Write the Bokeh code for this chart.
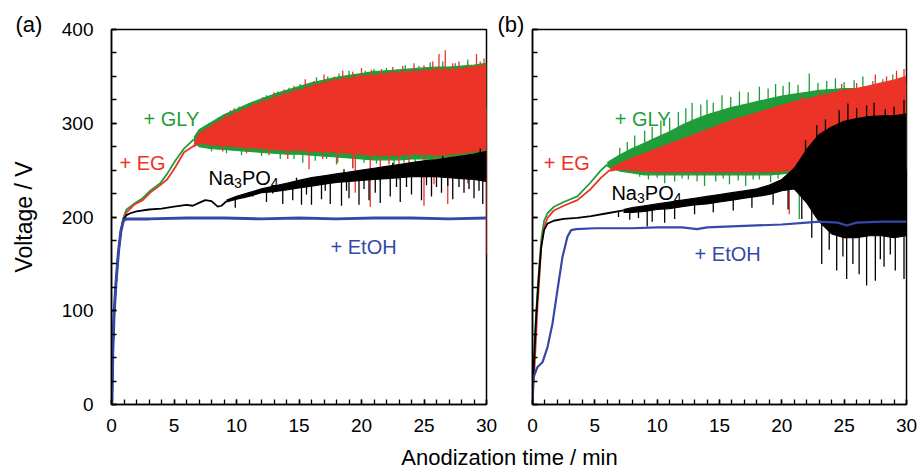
import numpy as np
from bokeh.plotting import figure
from bokeh.layouts import row, column
from bokeh.models import SingleIntervalTicker, Label, Range1d
from bokeh.embed import file_html
from bokeh.resources import INLINE

FONT = "Liberation Sans"
GREEN = "#1f9d3a"
RED = "#ec3327"
BLUE = "#3548a8"
BLACK = "#000000"

X_TICKS = [0, 5, 10, 15, 20, 25, 30]
Y_TICKS = [0, 100, 200, 300, 400]

# ---------------- panel (a) ----------------
A_GLY_T = [0, 0.04, 0.1, 0.2, 0.35, 0.55, 0.75, 0.95, 1.2, 1.8, 2.5, 3.1, 3.9, 4.45, 5.1, 5.8, 6.6]
A_GLY_V = [0, 5, 55, 95, 128, 162, 185, 199, 208, 214, 220, 228, 236, 246, 260, 273, 283]
A_GLY_BT = [6.6, 7, 8, 9, 10, 11, 12, 13, 14, 15, 16, 17, 18, 19, 20, 21, 22, 23, 24, 25, 26, 27, 28, 29, 30]
A_GLY_HI = [285, 293, 301, 309, 315, 321, 326, 331, 335, 339, 343, 346, 349, 351, 353, 355, 356, 357, 358, 359, 360, 360, 361, 362, 364]
A_GLY_LO = [281, 275, 273, 272, 271, 270, 269, 268, 267, 267, 266, 265, 264, 263, 262, 261, 261, 261, 262, 262, 261, 262, 263, 265, 267]
A_GLY_DN_T = [8.0, 9.2, 10.4, 12.0, 13.5, 14.6, 15.3, 16.3, 17.2, 18.0, 19.3, 20.2, 21.2, 22.6, 23.4, 24.3, 25.2, 26.2, 27.3, 28.8, 29.8]
A_GLY_DN_V = [270, 268, 266, 265, 262, 262, 258, 260, 262, 256, 252, 258, 257, 255, 258, 258, 250, 256, 257, 259, 262]
A_GLY_UP_T = [7.8, 8.5, 9.5, 10.2, 11.2, 12.4, 13.3, 14.2, 15.1, 16.4, 17.3, 18.2, 19.0, 20.3, 21.0, 22.0, 23.5, 24.6, 25.5, 26.5, 27.5, 28.5, 29.5]
A_GLY_UP_V = [300, 306, 314, 318, 322, 330, 334, 338, 342, 349, 350, 353, 356, 356, 358, 359, 362, 361, 365, 366, 364, 368, 366]

A_EG_T = [0, 0.04, 0.1, 0.2, 0.35, 0.55, 0.75, 0.95, 1.2, 1.8, 2.5, 3.1, 3.9, 4.45, 5.1, 5.8, 6.6]
A_EG_V = [0, 5, 55, 95, 128, 162, 185, 198, 205, 213, 218, 226, 234, 240, 253, 269, 276]
A_EG_BT = [6.6, 7, 8, 9, 10, 11, 12, 13, 14, 15, 16, 17, 18, 19, 20, 21, 22, 23, 24, 25, 26, 27, 28, 29, 30]
A_EG_HI = [277, 289, 297, 305, 311, 317, 322, 327, 331, 335, 339, 343, 346, 348, 350, 351, 353, 354, 355, 356, 357, 357, 358, 360, 362]
A_EG_LO = [275, 279, 277, 276, 275, 274, 273, 272, 271, 271, 270, 270, 269, 268, 267, 266, 266, 266, 267, 267, 266, 267, 268, 270, 272]
A_EG_DN_T = [8.9, 10.8, 12.6, 14.1, 15.8, 16.9, 18.1, 19.3, 19.5, 20.7, 21.5, 22.2, 23.0, 23.8, 25.0, 25.8, 26.4, 26.9, 27.6, 28.5, 29.1, 29.6, 30.0]
A_EG_DN_V = [270, 268, 266, 262, 251, 262, 258, 252, 226, 211, 238, 256, 240, 254, 212, 235, 252, 214, 250, 236, 255, 245, 160]
A_EG_UP_T = [7.5, 8.3, 9.1, 9.8, 10.5, 11.3, 12.1, 13.0, 13.8, 14.6, 15.5, 16.2, 17.0, 17.8, 18.5, 19.3, 20.0, 20.8, 21.6, 22.5, 23.3, 24.2, 25.0, 25.7, 26.2, 26.7, 27.3, 27.8, 28.5, 29.2, 29.8]
A_EG_UP_V = [294, 302, 310, 316, 318, 323, 328, 333, 336, 340, 347, 345, 352, 350, 356, 355, 359, 357, 358, 360, 361, 364, 362, 366, 374, 378, 364, 366, 363, 374, 369]

A_NA_T = [0, 0.04, 0.1, 0.2, 0.35, 0.55, 0.75, 0.95, 1.2, 1.5, 2, 3, 4, 5, 6, 6.5, 7, 7.5, 8, 8.5, 8.8, 9.2]
A_NA_V = [0, 5, 55, 95, 128, 162, 185, 197, 202, 204, 206, 208, 209, 211, 213, 212, 215, 218, 217, 211, 212, 217]
A_NA_BT = [9.2, 10, 11, 12, 13, 14, 15, 16, 17, 18, 19, 20, 21, 22, 23, 24, 25, 26, 27, 28, 29, 30]
A_NA_HI = [218, 222, 226, 230, 233, 236, 239, 242, 244, 246, 248, 250, 252, 254, 256, 258, 260, 261, 263, 265, 267, 270]
A_NA_LO = [216, 219, 222, 226, 227, 229, 231, 233, 235, 237, 238, 239, 240, 241, 242, 243, 243, 243, 242, 241, 240, 238]
A_NA_DN_T = [9.9, 10.6, 11.3, 12.4, 12.9, 13.7, 14.5, 15.2, 15.6, 16.0, 16.8, 17.1, 17.5, 18.4, 18.8, 19.0, 19.8, 20.2, 20.6, 21.1,
             21.5, 22.3, 22.8, 23.1, 23.6, 24.0, 24.8, 25.2, 25.6, 26.0, 26.4, 26.9, 27.3, 27.8, 28.2, 28.6, 29.0, 29.4, 29.7]
A_NA_DN_V = [210, 220, 222, 216, 225, 214, 218, 213, 224, 213, 219, 228, 214, 212, 228, 220, 213, 230, 218, 226,
             215, 222, 232, 216, 232, 224, 218, 234, 222, 232, 226, 233, 219, 232, 226, 230, 220, 228, 214]
A_NA_UP_T = [14.8, 18.6, 22.5, 26.5, 29.5]
A_NA_UP_V = [242, 251, 258, 265, 273]

A_ET_T = [0, 0.04, 0.1, 0.2, 0.35, 0.55, 0.75, 0.95, 1.2, 3, 6, 9, 12, 15, 18, 21, 24, 27, 30]
A_ET_V = [0, 5, 55, 95, 128, 162, 185, 196, 198, 198, 199, 199, 198, 199, 198, 199, 199, 198, 199]

# ---------------- panel (b) ----------------
B_GLY_T = [0, 0.1, 0.26, 0.4, 0.53, 0.72, 0.93, 1.2, 1.73, 2.5, 3.6, 4.6, 5.5, 6.0]
B_GLY_V = [0, 45, 90, 121, 146, 178, 196, 204, 211, 216, 222, 236, 250, 256]
B_GLY_BT = [6, 7, 8, 9, 10, 11, 12, 13, 14, 15, 16, 17, 18, 19, 20, 21, 22, 23, 24, 25, 26, 27, 28, 29, 30]
B_GLY_HI = [258, 266, 273, 279, 285, 291, 298, 304, 309, 313, 317, 320, 323, 326, 329, 331, 333, 335, 336, 337, 337, 338, 339, 340, 342]
B_GLY_LO = [254, 249, 247, 245, 245, 245, 245, 245, 245, 245, 245, 245, 245, 245, 246, 248, 250, 251, 251, 251, 251, 251, 251, 251, 251]
B_GLY_DN_T = [8.6, 9.3, 10.0, 10.6, 11.4, 12.0, 12.5, 13.2, 13.8, 14.7, 15.3, 15.8, 16.5, 17.1, 17.7, 18.2, 19.1, 19.7, 21.4]
B_GLY_DN_V = [243, 240, 242, 236, 238, 241, 240, 238, 233, 238, 241, 235, 239, 233, 240, 240, 237, 241, 198]
B_GLY_UP_T = [7.0, 7.6, 8.2, 9.0, 9.6, 10.3, 11.0, 11.7, 12.3, 12.8, 13.5, 14.0, 14.5, 15.2, 15.9, 16.6, 17.3, 18.2, 18.9, 19.5,
              20.1, 20.6, 21.3, 22.2, 22.9, 23.6, 24.3, 25.0, 25.8, 26.5, 27.3, 28.1, 28.9, 29.5]
B_GLY_UP_V = [274, 280, 287, 292, 296, 303, 306, 312, 316, 322, 320, 325, 322, 330, 328, 334, 333, 339, 337, 342,
              340, 344, 341, 353, 343, 345, 348, 344, 346, 350, 345, 347, 352, 348]

B_EG_T = [0, 0.15, 0.4, 0.55, 0.7, 0.93, 1.2, 1.73, 2.5, 3.6, 4.6, 5.5, 6.2]
B_EG_V = [0, 35, 104, 135, 168, 189, 199, 207, 212, 218, 229, 242, 250]
B_EG_BT = [6.2, 7, 8, 9, 10, 11, 12, 13, 14, 15, 16, 17, 18, 19, 20, 21, 22, 23, 24, 25, 26, 27, 28, 29, 30]
B_EG_HI = [251, 257, 263, 268, 273, 278, 283, 288, 293, 298, 303, 307, 311, 315, 319, 323, 326, 329, 332, 335, 337, 340, 343, 346, 350]
B_EG_LO = [249, 251, 250, 249, 248, 248, 248, 248, 248, 248, 248, 248, 248, 248, 249, 251, 254, 255, 255, 255, 255, 255, 255, 255, 255]
B_EG_DN_T = [20.6, 22.6, 28.8]
B_EG_DN_V = [203, 203, 178]
B_EG_UP_T = [21.5, 23.0, 24.8, 26.0, 27.5, 28.4, 29.2, 29.8]
B_EG_UP_V = [330, 334, 342, 343, 352, 350, 356, 358]

B_NA_T = [0, 0.1, 0.3, 0.5, 0.7, 0.93, 1.2, 1.7, 2.5, 3.6, 4.7, 6, 7.3]
B_NA_V = [0, 40, 95, 135, 168, 186, 193, 196, 198, 199, 201, 204, 207]
B_NA_BT = [7.3, 8, 9, 10, 11, 12, 13, 14, 15, 16, 17, 18, 19, 20, 21, 22, 23, 24, 25, 26, 27, 28, 29, 30]
B_NA_HI = [208, 210, 212, 214, 216, 218, 220, 222, 224, 226, 228, 230, 234, 240, 252, 272, 288, 296, 302, 305, 307, 308, 308, 310]
B_NA_LO = [205, 205, 206, 208, 209, 211, 213, 214, 216, 218, 220, 222, 224, 228, 230, 215, 195, 182, 178, 178, 180, 180, 178, 180]
B_NA_DN_T = [6.9, 7.8, 8.5, 9.2, 9.6, 10.6, 11.4, 13.0, 14.5, 16.1, 17.6, 19.3, 20.5, 21.6, 22.4, 23.2, 23.8, 24.4, 24.9, 25.2,
             25.7, 26.2, 26.8, 27.5, 27.9, 28.2, 28.7, 29.1, 29.8]
B_NA_DN_V = [200, 197, 199, 190, 195, 194, 198, 203, 205, 207, 210, 213, 208, 198, 178, 150, 165, 143, 158, 134,
             150, 139, 127, 132, 155, 147, 160, 143, 134]
B_NA_UP_T = [21.9, 22.8, 23.5, 24.6, 25.3, 26.0, 26.8, 27.4, 28.3, 29.0, 29.8]
B_NA_UP_V = [282, 298, 304, 314, 321, 316, 319, 322, 315, 318, 325]

B_ET_T = [0, 0.05, 0.4, 0.8, 1.2, 1.6, 2.0, 2.4, 2.8, 3.1, 3.5, 5, 8, 10, 12, 13.2, 14, 16, 18, 20, 22, 23, 24.5, 25.2, 26, 28, 30]
B_ET_V = [0, 28, 40, 45, 61, 86, 122, 157, 179, 186, 187, 188, 188, 189, 189, 187, 189, 190, 191, 192, 194, 195, 194, 191, 194, 195, 195]


def band(p, t, lo, hi, color):
    p.varea(x=t, y1=lo, y2=hi, fill_color=color, fill_alpha=1.0)
    p.line(t, hi, line_color=color, line_width=1.2)
    p.line(t, lo, line_color=color, line_width=1.2)


def spikes(p, st, sv, bt, blo, bhi, color, width=1.3):
    mid = (np.array(blo, dtype=float) + np.array(bhi, dtype=float)) / 2.0
    base = np.interp(st, bt, mid)
    p.segment(x0=st, y0=base, x1=st, y1=sv, line_color=color, line_width=width)


def series(p, t, v, bt, lo, hi, dn_t, dn_v, up_t, up_v, color):
    p.line(t, v, line_color=color, line_width=1.8)
    band(p, bt, lo, hi, color)
    spikes(p, dn_t, dn_v, bt, lo, hi, color)
    spikes(p, up_t, up_v, bt, lo, hi, color)


def make_panel(left_border, right_border, frame_w, show_labels, tag, tag_offset):
    p = figure(frame_width=frame_w, frame_height=375,
               x_range=Range1d(0, 30), y_range=Range1d(0, 400),
               output_backend="svg", toolbar_location=None,
               min_border_left=left_border, min_border_right=right_border,
               min_border_top=29, min_border_bottom=39,
               background_fill_color="white", border_fill_color="white",
               title=tag)
    p.title.align = "left"
    p.title.offset = tag_offset
    p.title.text_font = FONT
    p.title.text_font_size = "22px"
    p.title.text_font_style = "normal"
    p.title.text_color = "black"
    p.title.standoff = -14
    p.grid.visible = False
    p.outline_line_color = "black"
    p.outline_line_width = 1.5
    p.xaxis.ticker = SingleIntervalTicker(interval=5, num_minor_ticks=5)
    p.yaxis.ticker = SingleIntervalTicker(interval=100, num_minor_ticks=4)
    p.xaxis.axis_label = None
    p.xaxis.axis_label_standoff = 0
    p.xaxis.axis_label_text_font_size = "0px"
    for ax in (p.xaxis[0], p.yaxis[0]):
        ax.axis_line_color = "black"
        ax.axis_line_width = 1.5
        ax.major_tick_in = 5
        ax.major_tick_out = 0
        ax.minor_tick_in = 5
        ax.minor_tick_out = 0
        ax.major_tick_line_width = 1.5
        ax.minor_tick_line_width = 1.3
        ax.major_tick_line_color = "black"
        ax.minor_tick_line_color = "black"
        ax.major_label_text_font = FONT
        ax.major_label_text_font_size = "19px"
        ax.major_label_text_color = "black"
    p.xaxis.major_label_standoff = 14
    if show_labels:
        p.yaxis.major_label_standoff = 18
        p.yaxis.axis_label = "Voltage / V"
        p.yaxis.axis_label_text_font = FONT
        p.yaxis.axis_label_text_font_size = "23px"
        p.yaxis.axis_label_text_font_style = "normal"
        p.yaxis.axis_label_text_color = "black"
        p.yaxis.axis_label_standoff = 22
    else:
        p.yaxis.axis_label = None
        p.yaxis.major_label_standoff = 0
        p.yaxis.major_label_overrides = {k: "" for k in Y_TICKS}
    return p


def add_text(p, x, y, text, color, size="20px", x_offset=0):
    p.add_layout(Label(x=x, y=y, text=text, text_color=color, text_font=FONT,
                       text_font_size=size, x_offset=x_offset,
                       text_baseline="alphabetic", text_align="left"))


def add_na3po4(p, x, y):
    add_text(p, x, y, "Na", BLACK)
    add_text(p, x, y - 5.5, "3", BLACK, "14px", 25.6)
    add_text(p, x, y, "PO", BLACK, "20px", 33.4)
    add_text(p, x, y - 5.5, "4", BLACK, "14px", 62.3)


# ---- panel (a): canvas 0..497, frame 111..486
pA = make_panel(111, 11, 375, True, "(a)", -96)
series(pA, A_GLY_T, A_GLY_V, A_GLY_BT, A_GLY_LO, A_GLY_HI, A_GLY_DN_T, A_GLY_DN_V, A_GLY_UP_T, A_GLY_UP_V, GREEN)
series(pA, A_EG_T, A_EG_V, A_EG_BT, A_EG_LO, A_EG_HI, A_EG_DN_T, A_EG_DN_V, A_EG_UP_T, A_EG_UP_V, RED)
series(pA, A_NA_T, A_NA_V, A_NA_BT, A_NA_LO, A_NA_HI, A_NA_DN_T, A_NA_DN_V, A_NA_UP_T, A_NA_UP_V, BLACK)
pA.line(A_ET_T, A_ET_V, line_color=BLUE, line_width=3)
add_text(pA, 2.56, 305, "+ GLY", GREEN)
add_text(pA, 0.64, 258, "+ EG", RED)
add_na3po4(pA, 7.76, 242)
add_text(pA, 17.52, 168.5, "+ EtOH", BLUE)

# ---- panel (b): canvas 497..921, frame 532..906
pB = make_panel(35, 15, 374, False, "(b)", -35)
series(pB, B_GLY_T, B_GLY_V, B_GLY_BT, B_GLY_LO, B_GLY_HI, B_GLY_DN_T, B_GLY_DN_V, B_GLY_UP_T, B_GLY_UP_V, GREEN)
series(pB, B_EG_T, B_EG_V, B_EG_BT, B_EG_LO, B_EG_HI, B_EG_DN_T, B_EG_DN_V, B_EG_UP_T, B_EG_UP_V, RED)
series(pB, B_NA_T, B_NA_V, B_NA_BT, B_NA_LO, B_NA_HI, B_NA_DN_T, B_NA_DN_V, B_NA_UP_T, B_NA_UP_V, BLACK)
pB.line(B_ET_T, B_ET_V, line_color=BLUE, line_width=2.2)
add_text(pB, 6.6, 305, "+ GLY", GREEN)
add_text(pB, 0.9, 258, "+ EG", RED)
add_na3po4(pB, 6.33, 226)
add_text(pB, 13.0, 161, "+ EtOH", BLUE)

# ---- shared x-axis title (no title panel, frame = whole canvas)
pX = figure(width=921, height=27, output_backend="svg", toolbar_location=None,
            x_axis_type=None, y_axis_type=None, min_border=0, title=None,
            x_range=Range1d(0, 1), y_range=Range1d(0, 1),
            outline_line_color=None, background_fill_color="white",
            border_fill_color="white")
pX.grid.visible = False
pX.add_layout(Label(x=509, y=13, x_units="screen", y_units="screen",
                    text="Anodization time / min", text_font=FONT,
                    text_font_size="22px", text_color="black",
                    text_align="center", text_baseline="middle"))

layout = column(row(pA, pB), pX)
open("out.html", "w").write(file_html(layout, INLINE))
